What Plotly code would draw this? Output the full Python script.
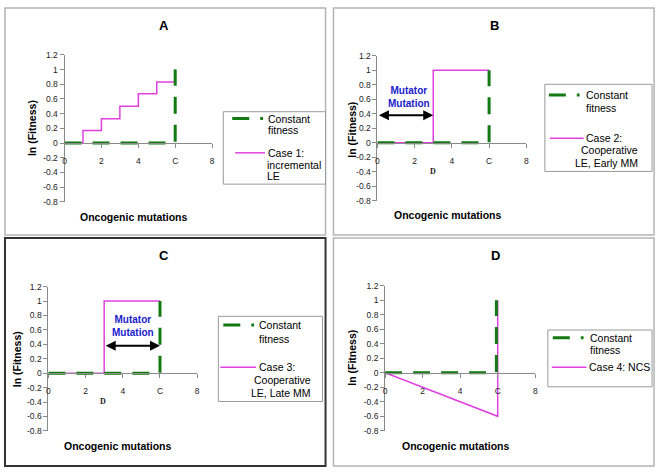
import plotly.graph_objects as go

W, H = 661, 475

# ---------------- data ----------------
x_tick_vals = [0, 2, 4, 6, 8]
x_tick_text = ["0", "2", "4", "C", "8"]
y_tick_vals = [-0.8, -0.6, -0.4, -0.2, 0, 0.2, 0.4, 0.6, 0.8, 1, 1.2]
y_tick_text = ["-0.8", "-0.6", "-0.4", "-0.2", "0", "0.2", "0.4", "0.6", "0.8", "1", "1.2"]

const_x = [0, 6, 6]
const_y = [0, 0, 1]
const_x_d = [0, 5.93, 5.93]
const_y_d = [0, 0, 1]

case1_x = [0, 1, 1, 2, 2, 3, 3, 4, 4, 5, 5, 6, 6]
case1_y = [0, 0, 0.17, 0.17, 0.33, 0.33, 0.5, 0.5, 0.67, 0.67, 0.83, 0.83, 1]
case2_x = [0, 3, 3, 6]
case2_y = [0, 0, 1, 1]
case3_x = [0, 3, 3, 6]
case3_y = [0, 0, 1, 1]
case4_x = [0, 6, 6]
case4_y = [0, -0.6, 1]

panel_titles = ["A", "B", "C", "D"]
case_names = ["Case 1: incremental LE", "Case 2: Cooperative LE, Early MM",
              "Case 3: Cooperative LE, Late MM", "Case 4: NCS"]

GREEN = "#137A13"
MAGENTA = "#E040E0"
GREEN_DASH = "17px,11px"
FONT = "Liberation Sans, Arial, sans-serif"


def px(x):
    return x / W


def py(y):
    return 1 - y / H


# plot-area pixel boxes: (x_left, x_right, y_top, y_bottom)
areas = [
    (63, 211.7, 51, 201),
    (378.3, 528.3, 51.7, 200),
    (46.7, 196.7, 287.7, 435),
    (386, 537.3, 286.7, 435),
]

fig = go.Figure()
case_data = [(case1_x, case1_y), (case2_x, case2_y), (case3_x, case3_y), (case4_x, case4_y)]
const_data = [(const_x, const_y), (const_x, const_y), (const_x, const_y), (const_x_d, const_y_d)]

for i in range(4):
    sfx = "" if i == 0 else str(i + 1)
    cx, cy = case_data[i]
    kx, ky = const_data[i]
    fig.add_trace(go.Scatter(x=cx, y=cy, mode="lines", name=case_names[i],
                             line=dict(color=MAGENTA, width=1.5),
                             xaxis="x" + sfx, yaxis="y" + sfx, showlegend=False))
    fig.add_trace(go.Scatter(x=kx, y=ky, mode="lines", name="Constant fitness",
                             line=dict(color=GREEN, width=3, dash=GREEN_DASH),
                             xaxis="x" + sfx, yaxis="y" + sfx, showlegend=False))

    xl, xr, yt, yb = areas[i]
    ydom = [py(yb), py(yt)]
    zero_pos = ydom[0] + (0 - (-0.8)) / 2.0 * (ydom[1] - ydom[0])
    axis_common = dict(showgrid=False, zeroline=False, showline=True, linecolor="#8a8a8a",
                       linewidth=1, ticks="outside", ticklen=4, tickcolor="#8a8a8a",
                       tickfont=dict(family=FONT, size=8.5, color="#222"), fixedrange=True)
    fig.layout["xaxis" + sfx] = dict(domain=[px(xl), px(xr)], range=[0, 8], anchor="free",
                                      position=zero_pos, tickmode="array",
                                      tickvals=x_tick_vals, ticktext=x_tick_text,
                                      ticklabelstandoff=6, **axis_common)
    fig.layout["yaxis" + sfx] = dict(domain=ydom, range=[-0.8, 1.2], anchor="x" + sfx,
                                      tickmode="array", tickvals=y_tick_vals,
                                      ticktext=y_tick_text, **axis_common)

annotations = []
shapes = []

# panel frames
frames = [
    (3, 3, 326, 235, "#b4b4b4", 1.5),
    (334, 3, 657, 235, "#b4b4b4", 1.5),
    (3, 238, 326, 471, "#333333", 2),
    (334, 238, 657, 471, "#b4b4b4", 1.5),
]
for x0, y0, x1, y1, col, w in frames:
    shapes.append(dict(type="rect", xref="paper", yref="paper", x0=px(x0), x1=px(x1),
                       y0=py(y1), y1=py(y0), line=dict(color=col, width=w)))

# titles and axis titles
title_pos = [(163, 21), (496, 21), (163, 256), (497, 256)]
ytitle_pos = [(31, 126), (353, 127), (15, 362), (353, 360)]
xtitle_pos = [(133, 217), (449, 215), (117, 450), (457, 450)]
center = dict(xref="paper", yref="paper", xanchor="center", yanchor="middle", showarrow=False)
for i in range(4):
    annotations.append(dict(text="<b>%s</b>" % panel_titles[i], x=px(title_pos[i][0]),
                            y=py(title_pos[i][1]),
                            font=dict(family=FONT, size=13, color="#000"), **center))
    annotations.append(dict(text="<b>ln (Fitness)</b>", x=px(ytitle_pos[i][0]),
                            y=py(ytitle_pos[i][1]), textangle=-90,
                            font=dict(family=FONT, size=10.5, color="#000"), **center))
    annotations.append(dict(text="<b>Oncogenic mutations</b>", x=px(xtitle_pos[i][0]),
                            y=py(xtitle_pos[i][1]),
                            font=dict(family=FONT, size=10.5, color="#000"), **center))

# mutator mutation arrows and text (B, C)
for sfx, (a0, a1), (tx, ty) in [("2", (0, 3), (1.7, 0.63)), ("3", (3, 6), (4.57, 0.65))]:
    annotations.append(dict(x=a1, y=0.38, ax=a0, ay=0.38, xref="x" + sfx, yref="y" + sfx,
                            axref="x" + sfx, ayref="y" + sfx, text="", showarrow=True,
                            arrowhead=2, startarrowhead=2, arrowside="end+start",
                            arrowwidth=2, arrowsize=1, arrowcolor="#000",
                            standoff=0, startstandoff=0))
    annotations.append(dict(text="<b>Mutator<br>Mutation</b>", x=tx, y=ty, xref="x" + sfx,
                            yref="y" + sfx, showarrow=False, xanchor="center", yanchor="middle",
                            font=dict(family=FONT, size=10, color="#2020CC")))
    annotations.append(dict(text="<b>D</b>", x=3 if sfx == "2" else 2.93, y=-0.39,
                            xref="x" + sfx, yref="y" + sfx, showarrow=False,
                            xanchor="center", yanchor="middle",
                            font=dict(family="Liberation Serif, serif", size=8, color="#222")))

# legends (drawn manually to mimic the wrapped Excel legend text)
legends = [
    dict(box=(223, 109, 326, 183),
         samples=[(232, 263, 116, GREEN, 3, GREEN_DASH), (235, 265, 151, MAGENTA, 1.5, "solid")],
         lines=[("Constant", 266, 116, "left"), ("fitness", 266, 128, "left"),
                ("Case 1:", 266, 151, "left"), ("incremental", 265, 163, "left"),
                ("LE", 265, 175, "left")]),
    dict(box=(547, 81, 655, 170),
         samples=[(551, 582, 92, GREEN, 3, GREEN_DASH), (552, 586, 136, MAGENTA, 1.5, "solid")],
         lines=[("Constant", 586, 92, "left"), ("fitness", 586, 105, "left"),
                ("Case 2:", 586, 136, "left"), ("Cooperative", 643, 148, "right"),
                ("LE, Early MM", 643, 161, "right")]),
    dict(box=(218, 318, 323, 405),
         samples=[(223, 254, 327, GREEN, 3, GREEN_DASH), (220, 256, 370, MAGENTA, 1.5, "solid")],
         lines=[("Constant", 257, 327, "left"), ("fitness", 257, 341, "left"),
                ("Case 3:", 257, 370, "left"), ("Cooperative", 313, 383, "right"),
                ("LE, Late MM", 313, 396, "right")]),
    dict(box=(550, 332, 655, 390),
         samples=[(555, 586, 340, GREEN, 3, GREEN_DASH), (554, 589, 370, MAGENTA, 1.5, "solid")],
         lines=[("Constant", 590, 340, "left"), ("fitness", 590, 352, "left"),
                ("Case 4: NCS", 589, 370, "left")]),
]
for lg in legends:
    x0, y0, x1, y1 = lg["box"]
    shapes.append(dict(type="rect", xref="paper", yref="paper", x0=px(x0), x1=px(x1),
                       y0=py(y1), y1=py(y0), line=dict(color="#9a9a9a", width=1),
                       fillcolor="white"))
    for sx0, sx1, sy, col, w, dash in lg["samples"]:
        shapes.append(dict(type="line", xref="paper", yref="paper", x0=px(sx0), x1=px(sx1),
                           y0=py(sy), y1=py(sy), line=dict(color=col, width=w, dash=dash)))
    for text, tx, ty, anc in lg["lines"]:
        annotations.append(dict(text=text, x=px(tx), y=py(ty), xref="paper", yref="paper",
                                xanchor=anc, yanchor="middle", showarrow=False,
                                font=dict(family=FONT, size=10.5, color="#000")))

fig.update_layout(width=W, height=H, margin=dict(l=0, r=0, t=0, b=0),
                  paper_bgcolor="white", plot_bgcolor="white",
                  shapes=shapes, annotations=annotations, showlegend=False)

fig.write_html("out.html", config={"displayModeBar": False},
               post_script="document.body.style.margin='0';document.body.style.overflow='hidden';")
